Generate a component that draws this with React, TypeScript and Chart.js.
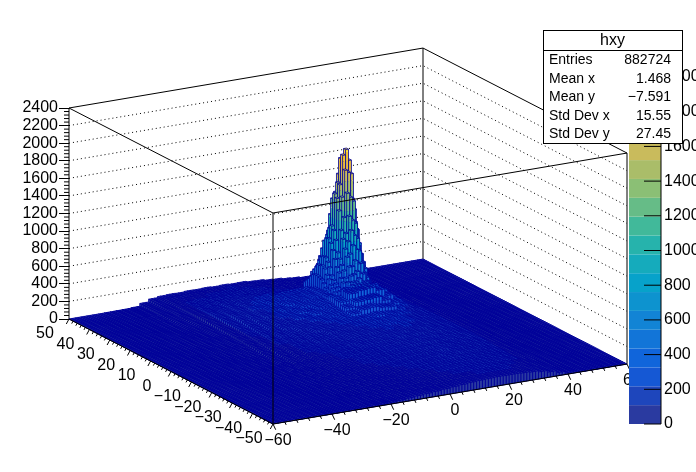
import React, { useEffect, useRef } from "react";
import { Chart, registerables } from "chart.js";

Chart.register(...registerables);

const FONT = '"Liberation Sans", Arial, sans-serif';

const X_TICKS = [-60, -40, -20, 0, 20, 40, 60];
const Y_TICKS = [50, 40, 30, 20, 10, 0, -10, -20, -30, -40, -50];
const Z_TICKS = [0, 200, 400, 600, 800, 1000, 1200, 1400, 1600, 1800, 2000, 2200, 2400];
const PAL_TICKS = [0, 200, 400, 600, 800, 1000, 1200, 1400, 1600, 1800, 2000];
const STATS = [
  ["Entries", "882724"],
  ["Mean x", "1.468"],
  ["Mean y", "\u22127.591"],
  ["Std Dev x", "15.55"],
  ["Std Dev y", "27.45"],
];
const PALETTE = [
  "#2a3aa0", "#1e46bc", "#1558d4", "#1065db", "#1275d8", "#1284d5", "#0d93cf", "#07a2ca",
  "#15abbc", "#26b3ac", "#41b99a", "#66bc87", "#8bbf75", "#aabd69", "#c9bb5c", "#e8bb40",
  "#f6c52e", "#fbe01a", "#fae51d", "#f9fb0e",
];

// surface: rows from y = 48.5 down to y = -47.5, columns from x = -58.5 to x = 58.5 (3 unit cells)
const SURFACE_ROWS = [
  [0,0,0,0,1,2,3,8,40,72,84,88,86,92,90,94,88,92,86,88,78,74,62,56,44,36,26,20,12,8,4,2,1,1,0,0,0,0,0,0],
  [0,0,0,1,1,3,5,10,42,70,88,94,98,102,100,108,106,110,104,98,92,84,70,62,50,42,30,24,14,10,5,3,1,1,0,0,0,0,0,0],
  [0,0,1,1,2,3,6,12,44,70,92,102,108,104,116,118,122,112,118,106,100,94,78,72,56,46,34,24,18,10,6,3,2,1,0,0,0,0,0,0],
  [0,0,1,2,2,4,9,16,44,68,96,110,124,120,132,140,136,146,132,130,112,108,92,78,64,54,38,30,20,12,7,4,2,1,1,0,0,0,0,0],
  [0,1,1,2,3,5,10,18,42,66,100,118,134,146,150,156,160,148,154,140,130,112,104,86,72,58,44,34,22,14,8,4,2,1,1,0,0,0,0,0],
  [0,1,1,2,4,6,12,22,42,64,102,126,142,158,166,176,172,184,170,164,142,132,110,100,78,66,50,34,26,16,9,5,3,1,1,0,0,0,0,0],
  [0,1,2,3,4,7,12,24,40,62,104,134,150,176,186,198,208,192,202,180,170,146,130,106,92,70,54,42,28,18,10,5,3,1,1,0,0,0,0,0],
  [0,1,2,3,5,7,14,24,40,60,100,138,160,184,206,212,226,236,224,230,236,240,250,250,250,240,220,185,135,95,56,30,14,6,3,2,1,0,0,0],
  [0,1,2,3,5,8,14,24,38,58,96,136,166,192,214,232,240,252,244,262,270,290,310,300,300,280,260,205,150,100,62,34,16,7,3,2,1,0,0,0],
  [0,1,2,3,5,8,14,26,36,56,92,130,170,186,222,228,250,240,262,270,292,318,340,340,320,300,270,215,156,110,66,36,18,8,3,2,1,0,0,0],
  [0,1,2,3,6,8,14,24,36,54,90,128,164,190,210,232,238,262,258,276,296,324,340,340,330,290,260,220,160,104,70,40,18,8,4,2,1,0,0,0],
  [0,1,2,3,6,8,14,22,34,52,88,124,156,184,214,220,244,240,258,264,282,316,330,340,310,300,250,204,166,116,70,42,20,8,4,2,1,0,0,0],
  [0,1,2,3,5,8,13,22,32,48,84,118,150,176,198,222,232,248,238,262,276,340,420,450,450,420,340,250,160,118,76,42,22,9,4,2,1,0,0,0],
  [0,1,2,3,5,8,12,20,30,46,80,112,142,170,192,206,230,224,250,244,262,330,410,430,440,400,320,240,170,120,78,46,22,10,4,2,1,1,0,0],
  [0,1,2,3,5,7,12,18,28,42,74,106,136,158,184,196,206,228,226,240,252,300,350,360,370,320,270,225,166,126,80,48,24,10,4,2,1,1,0,0],
  [0,1,1,3,4,6,11,16,26,38,68,98,124,152,168,190,200,208,226,222,240,270,300,310,290,280,240,210,172,128,88,50,24,11,5,2,1,1,0,0],
  [0,0,1,2,4,6,10,14,24,32,60,90,116,140,160,176,194,202,208,222,232,240,244,256,244,236,222,196,170,132,90,52,26,11,5,3,1,1,0,0],
  [0,0,1,2,4,5,8,12,20,28,54,84,106,128,150,168,176,196,200,212,224,226,236,232,238,220,208,196,166,136,92,54,26,12,5,3,1,1,0,0],
  [0,0,1,2,3,5,8,11,18,24,48,74,98,118,136,160,168,182,194,198,212,224,222,230,224,222,206,188,170,134,96,56,28,12,5,3,1,1,0,0],
  [0,0,1,1,3,4,7,10,15,22,44,68,88,110,128,146,160,172,186,194,206,208,218,214,222,208,204,186,170,140,98,58,28,13,6,3,1,1,0,0],
  [0,0,1,1,2,4,6,9,13,18,38,62,80,100,118,134,150,166,176,186,192,204,206,216,208,212,196,184,168,138,102,60,30,14,6,3,1,1,0,0],
  [0,0,0,1,2,3,5,7,12,16,34,54,72,90,108,126,140,152,168,176,186,192,204,200,208,198,194,180,166,140,102,64,30,14,6,3,1,1,0,0],
  [0,0,0,1,2,3,5,6,10,14,28,48,66,84,98,114,130,142,156,168,176,186,188,196,192,194,182,176,164,138,104,62,34,15,6,3,1,1,0,0],
  [0,0,0,1,1,2,4,5,8,12,24,42,58,74,90,104,120,132,146,156,168,174,184,182,186,180,176,170,160,136,104,66,34,15,6,3,1,1,0,0],
  [0,0,0,0,1,2,3,5,7,10,20,36,52,66,80,96,110,122,136,146,156,164,170,174,172,174,166,164,154,134,104,66,34,16,6,3,1,1,0,0],
  [0,0,0,0,1,2,3,4,6,8,16,30,44,58,72,86,98,112,124,134,146,152,162,160,168,162,160,154,148,130,102,68,36,16,7,3,2,1,0,0],
  [0,0,0,0,1,1,2,3,5,7,14,26,38,50,64,76,90,100,114,122,134,142,148,156,152,156,148,148,140,124,100,66,36,16,7,3,2,1,0,0],
  [0,0,0,0,0,1,2,3,4,6,10,22,32,44,56,68,80,90,102,114,122,130,140,140,146,142,142,136,134,120,98,66,36,17,7,3,2,1,0,0],
  [0,0,0,0,0,1,2,2,4,5,8,18,26,38,48,60,72,80,94,102,112,120,128,132,134,138,130,130,126,114,94,66,36,17,7,3,2,1,0,0],
  [0,0,0,0,0,1,1,2,3,4,7,14,22,30,42,52,62,72,84,92,104,110,118,124,126,126,126,122,118,110,92,64,36,18,7,3,2,1,0,0],
  [0,0,0,0,0,0,1,2,3,4,6,10,18,26,36,44,54,64,74,84,94,102,110,114,118,120,118,116,112,104,88,62,36,18,7,3,2,1,0,0],
  [0,0,0,0,0,0,1,1,2,3,5,8,14,22,30,38,46,56,66,76,84,92,100,106,110,112,112,110,106,98,84,62,36,18,8,3,2,1,0,0],
  [0,0,0,0,0,0,1,1,2,3,4,7,12,18,26,34,42,50,58,68,76,84,92,98,102,106,104,104,100,94,80,60,36,18,8,3,2,1,0,0],
];

// the peak, one unit per cell: rows from y = 28 to y = 12, columns from x = 5 to x = 21
const PEAK_X_START = 5;
const PEAK_Y_START = 28;
const PEAK_ROWS = [
  [310, 335, 340, 365, 370, 385, 375, 380, 355, 345, 315, 305, 270, 260, 235, 230, 205],
  [340, 375, 395, 435, 445, 480, 460, 470, 430, 420, 365, 355, 315, 295, 260, 245, 215],
  [370, 440, 460, 520, 540, 585, 580, 580, 540, 520, 450, 430, 350, 340, 290, 270, 230],
  [410, 480, 520, 620, 650, 740, 710, 750, 680, 660, 550, 540, 420, 390, 315, 295, 240],
  [440, 520, 590, 720, 750, 910, 910, 970, 870, 830, 690, 650, 510, 450, 355, 320, 255],
  [450, 560, 640, 820, 880, 1110, 1130, 1260, 1120, 1110, 880, 790, 590, 500, 370, 340, 260],
  [450, 560, 660, 860, 970, 1300, 1370, 1570, 1430, 1440, 1110, 930, 680, 560, 415, 350, 270],
  [440, 570, 660, 870, 1010, 1370, 1490, 1760, 1680, 1660, 1250, 1020, 710, 570, 415, 355, 275],
  [430, 550, 620, 830, 970, 1330, 1480, 1810, 1870, 1740, 1300, 1030, 700, 570, 415, 350, 270],
  [400, 490, 570, 760, 870, 1200, 1350, 1650, 1620, 1600, 1190, 950, 660, 530, 395, 335, 260],
  [360, 450, 490, 670, 740, 990, 1130, 1400, 1350, 1300, 980, 810, 580, 490, 350, 320, 250],
  [340, 400, 450, 590, 680, 900, 960, 1150, 1100, 1060, 800, 700, 510, 440, 330, 290, 240],
  [310, 370, 420, 540, 620, 800, 880, 1000, 940, 900, 720, 620, 470, 400, 310, 280, 225],
  [280, 340, 390, 490, 570, 720, 750, 840, 790, 770, 630, 560, 410, 360, 275, 255, 215],
  [255, 300, 360, 450, 500, 620, 620, 680, 640, 640, 530, 470, 350, 310, 250, 235, 200],
  [240, 280, 320, 400, 460, 530, 540, 570, 540, 530, 450, 400, 310, 280, 230, 220, 190],
  [215, 260, 290, 360, 400, 470, 470, 500, 460, 450, 370, 330, 270, 250, 210, 205, 180],
];

const X_MIN = -60, X_MAX = 60, Y_MIN = -50, Y_MAX = 50, Z_TOP = 2400, PAL_MAX = 2173, BAND = PAL_MAX / 20;
const X_EDGE_PX = [354, -682]; // horizontal span, count offset of the x axis
const Y_EDGE_PX = 204;
const Y_EDGE_COUNTS = 1194.3;

function heightAt(xb: number, yb: number) {
  const r = PEAK_Y_START - yb, c = xb - PEAK_X_START;
  if (r >= 0 && r < PEAK_ROWS.length && c >= 0 && c < PEAK_ROWS[0].length) return PEAK_ROWS[r][c];
  const row = Math.min(SURFACE_ROWS.length - 1, Math.floor((Y_MAX - 1 - yb) / 3));
  const col = Math.min(39, Math.floor((xb - X_MIN) / 3));
  return SURFACE_ROWS[row][col] ?? 0;
}

const bars: { x: number; y: number; yb: number }[] = [];
for (let yb = Y_MAX - 1; yb >= Y_MIN; yb--) {
  for (let xb = X_MAX - 1; xb >= X_MIN; xb--) {
    bars.push({ x: xb, y: heightAt(xb, yb), yb });
  }
}

const legoPlugin = {
  id: "lego",
  beforeDatasetsDraw(chart: any) {
    const ctx: CanvasRenderingContext2D = chart.ctx;
    const sx = chart.scales.x, sz = chart.scales.y, sp = chart.scales.pal;
    const P = (x: number, y: number, z: number): [number, number] => {
      const fu = (x - X_MIN) / (X_MAX - X_MIN), fv = (y - Y_MIN) / (Y_MAX - Y_MIN);
      return [
        sx.getPixelForValue(X_EDGE_PX[0] * fu + Y_EDGE_PX * (1 - fv)),
        sz.getPixelForValue(z - X_EDGE_PX[1] * fu - Y_EDGE_COUNTS * (1 - fv)),
      ];
    };
    const line = (pts: [number, number][]) => {
      ctx.beginPath();
      pts.forEach((p, i) => (i ? ctx.lineTo(p[0], p[1]) : ctx.moveTo(p[0], p[1])));
      ctx.stroke();
    };
    const poly = (pts: [number, number][], color: string) => {
      ctx.fillStyle = color;
      ctx.beginPath();
      pts.forEach((p, i) => (i ? ctx.lineTo(p[0], p[1]) : ctx.moveTo(p[0], p[1])));
      ctx.closePath();
      ctx.fill();
    };
    ctx.save();
    // back walls
    ctx.strokeStyle = "#000";
    ctx.lineWidth = 1;
    ctx.setLineDash([1, 3]);
    for (let z = 200; z < Z_TOP; z += 200) {
      line([P(X_MIN, Y_MAX, z), P(X_MAX, Y_MAX, z), P(X_MAX, Y_MIN, z)]);
    }
    ctx.setLineDash([]);
    line([P(X_MIN, Y_MAX, Z_TOP), P(X_MAX, Y_MAX, Z_TOP), P(X_MAX, Y_MIN, Z_TOP)]);
    line([P(X_MAX, Y_MAX, 0), P(X_MAX, Y_MAX, Z_TOP)]);
    line([P(X_MAX, Y_MIN, 0), P(X_MAX, Y_MIN, Z_TOP)]);
    line([P(X_MIN, Y_MAX, 0), P(X_MIN, Y_MAX, Z_TOP)]);
    // minor ticks on the count axis
    const left = P(X_MIN, Y_MAX, 0)[0];
    for (let z = 0; z <= Z_TOP; z += 40) {
      if (z % 200 === 0) continue;
      const py = sz.getPixelForValue(z);
      line([[left - 5, py], [left, py]]);
    }

    // bars, back to front
    const data = chart.data.datasets[0].data;
    ctx.strokeStyle = "#000099";
    for (const b of data) {
      const h = b.y, x0 = b.x, x1 = b.x + 1, y0 = b.yb, y1 = b.yb + 1;
      ctx.lineWidth = h > 350 ? 0.8 : 1 - 0.35 * Math.min(1, h / 220);
      if (h > 0) {
        const levels = Math.ceil(h / BAND);
        for (let l = 0; l < levels; l++) {
          const zl = l * BAND, zh = Math.min(h, (l + 1) * BAND);
          poly([P(x0, y0, zl), P(x1, y0, zl), P(x1, y0, zh), P(x0, y0, zh)], PALETTE[l]);
          poly([P(x0, y0, zl), P(x0, y1, zl), P(x0, y1, zh), P(x0, y0, zh)], PALETTE[l]);
        }
      }
      const lvl = Math.min(19, Math.floor(h / BAND));
      const top: [number, number][] = [P(x0, y0, h), P(x1, y0, h), P(x1, y1, h), P(x0, y1, h)];
      poly(top, PALETTE[lvl]);
      ctx.beginPath();
      top.forEach((p, i) => (i ? ctx.lineTo(p[0], p[1]) : ctx.moveTo(p[0], p[1])));
      ctx.closePath();
      if (h > 0) {
        for (const [a, c] of [[x0, y1], [x0, y0], [x1, y0]]) {
          const p0 = P(a, c, 0), p1 = P(a, c, h);
          ctx.moveTo(p0[0], p0[1]);
          ctx.lineTo(p1[0], p1[1]);
        }
        const p0 = P(x0, y1, 0), p1 = P(x0, y0, 0), p2 = P(x1, y0, 0);
        ctx.moveTo(p0[0], p0[1]);
        ctx.lineTo(p1[0], p1[1]);
        ctx.lineTo(p2[0], p2[1]);
      }
      ctx.stroke();
    }

    // front of the box and 3D axes
    ctx.strokeStyle = "#000";
    ctx.lineWidth = 1;
    line([P(X_MIN, Y_MAX, Z_TOP), P(X_MIN, Y_MIN, Z_TOP), P(X_MAX, Y_MIN, Z_TOP)]);
    line([P(X_MIN, Y_MIN, 0), P(X_MIN, Y_MIN, Z_TOP)]);
    line([P(X_MIN, Y_MAX, 0), P(X_MIN, Y_MIN, 0), P(X_MAX, Y_MIN, 0)]);
    ctx.font = `16px ${FONT}`;
    ctx.fillStyle = "#000";
    ctx.textAlign = "center";
    ctx.textBaseline = "middle";
    for (let v = X_MIN; v <= X_MAX; v += 4) {
      const p = P(v, Y_MIN, 0);
      const k = v % 20 === 0 ? 1 : 0.5;
      line([p, [p[0] + 2.7 * k, p[1] + 5.7 * k]]);
    }
    for (let v = Y_MIN; v <= Y_MAX; v += 2) {
      const p = P(X_MIN, v, 0);
      const k = v % 10 === 0 ? 1 : 0.5;
      line([p, [p[0] - 2.7 * k, p[1] + 5 * k]]);
    }
    const fmt = (v: number) => (v < 0 ? "\u2212" + -v : String(v));
    for (const v of X_TICKS) {
      const p = P(v, Y_MIN, 0);
      ctx.fillText(fmt(v), p[0] + 5, p[1] + 17);
    }
    for (const v of Y_TICKS) {
      const p = P(X_MIN, v, 0);
      ctx.fillText(fmt(v), p[0] - 24, p[1] + 15);
    }

    // palette
    const palLeft = sx.getPixelForValue(560), palRight = chart.chartArea.right;
    PALETTE.forEach((c, i) => {
      const y1 = sp.getPixelForValue(i * BAND), y2 = sp.getPixelForValue((i + 1) * BAND);
      ctx.fillStyle = c;
      ctx.fillRect(palLeft, y2, palRight - palLeft, y1 - y2);
    });
    ctx.strokeStyle = "#000";
    line([[palRight, sp.getPixelForValue(0)], [palRight, sp.getPixelForValue(PAL_MAX)]]);
    for (const t of sp.ticks) {
      const py = sp.getPixelForValue(t.value);
      line([[palRight - 17, py], [palRight, py]]);
    }
    ctx.restore();
  },
  afterDraw(chart: any) {
    const ctx: CanvasRenderingContext2D = chart.ctx;
    ctx.save();
    const L = 543, R = 682, T = 30, B = 143;
    ctx.fillStyle = "#fff";
    ctx.fillRect(L, T, R - L, B - T);
    ctx.strokeStyle = "#000";
    ctx.lineWidth = 1;
    ctx.strokeRect(L + 0.5, T + 0.5, R - L, B - T);
    ctx.beginPath();
    ctx.moveTo(L, T + 20.5);
    ctx.lineTo(R, T + 20.5);
    ctx.stroke();
    ctx.fillStyle = "#000";
    ctx.textBaseline = "middle";
    ctx.textAlign = "center";
    ctx.font = `16px ${FONT}`;
    ctx.fillText("hxy", (L + R) / 2, T + 10.5);
    ctx.font = `14px ${FONT}`;
    STATS.forEach(([k, v], i) => {
      const y = 60.5 + i * 18.5;
      ctx.textAlign = "left";
      ctx.fillText(k, L + 6, y);
      ctx.textAlign = "right";
      ctx.fillText(v, R - 11, y);
    });
    ctx.restore();
  },
};

export default function App() {
  const ref = useRef<HTMLCanvasElement>(null);
  useEffect(() => {
    document.body.style.margin = "0";
    const chart = new Chart(ref.current!, {
      type: "scatter",
      data: { datasets: [{ label: "hxy", data: bars as any, pointRadius: 0, showLine: false }] },
      plugins: [legoPlugin as any],
      options: {
        animation: false,
        responsive: false,
        devicePixelRatio: 1,
        layout: { padding: { top: 47, bottom: 48, left: 0, right: 0 } },
        plugins: { legend: { display: false }, tooltip: { enabled: false } },
        scales: {
          x: { type: "linear", display: false, min: 0, max: 592 },
          y: {
            type: "linear",
            position: "left",
            min: -1194.3,
            max: 3094,
            border: { display: false },
            grid: { drawOnChartArea: false, drawTicks: true, tickLength: 10, color: "#000", lineWidth: 1 },
            ticks: {
              autoSkip: false,
              padding: 1,
              color: "#000",
              font: { family: FONT, size: 16 },
              callback: (v: any) => String(v),
            },
            afterBuildTicks: (s: any) => {
              s.ticks = Z_TICKS.map((value) => ({ value }));
            },
            afterFit: (s: any) => {
              s.width = 69;
            },
          },
          pal: {
            type: "linear",
            position: "right",
            min: 0,
            max: PAL_MAX,
            border: { display: false },
            grid: { drawOnChartArea: false, drawTicks: false },
            ticks: {
              autoSkip: false,
              padding: 3,
              color: "#000",
              font: { family: FONT, size: 16 },
              callback: (v: any) => String(v),
            },
            afterBuildTicks: (s: any) => {
              s.ticks = PAL_TICKS.map((value) => ({ value }));
            },
            afterFit: (s: any) => {
              s.width = 35;
            },
          },
        },
      },
    } as any);
    return () => chart.destroy();
  }, []);
  return <canvas ref={ref} width={696} height={472} style={{ display: "block", position: "absolute", left: 0, top: 0 }} />;
}
